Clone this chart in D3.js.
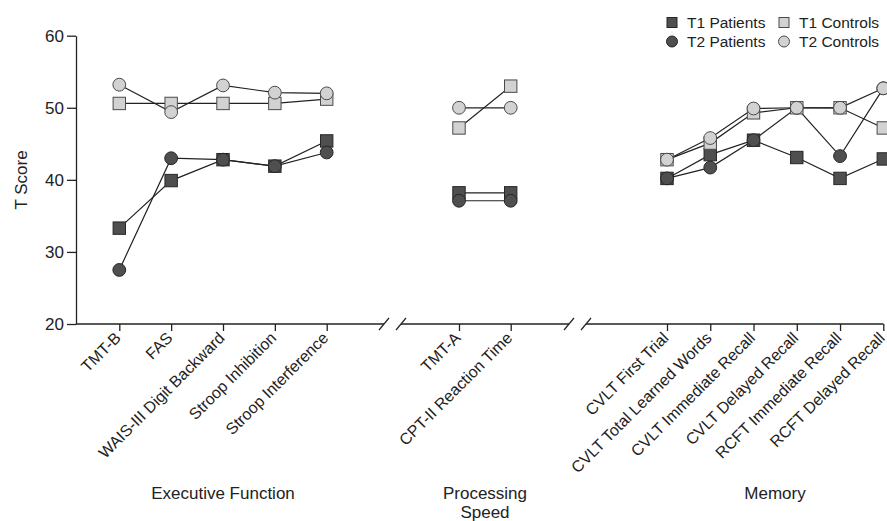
<!DOCTYPE html>
<html>
<head>
<meta charset="utf-8">
<script src="https://cdn.jsdelivr.net/npm/d3@7"></script>
<style>
  body { margin: 0; background: #fff; }
  svg { font-family: "Liberation Sans", Arial, Helvetica, sans-serif; }
</style>
</head>
<body>
<div id="chart"></div>
<script>
// test names per domain
const execTests = ["TMT-B", "FAS", "WAIS-III Digit Backward", "Stroop Inhibition", "Stroop Interference"];
const speedTests = ["TMT-A", "CPT-II Reaction Time"];
const memTests = ["CVLT First Trial", "CVLT Total Learned Words", "CVLT Immediate Recall",
                  "CVLT Delayed Recall", "RCFT Immediate Recall", "RCFT Delayed Recall"];

// T scores (exec / speed / memory)
const t1Patients = [[33.3, 39.9, 42.8, 41.9, 45.4], [38.2, 38.2], [40.2, 43.5, 45.5, 43.1, 40.2, 42.9]];
const t2Patients = [[27.5, 43.0, 42.8, 41.9, 43.8], [37.1, 37.1], [40.2, 41.7, 45.5, 50.0, 43.3, 52.7]];
const t1Controls = [[50.6, 50.6, 50.6, 50.6, 51.2], [47.2, 53.0], [42.8, 45.1, 49.3, 50.0, 50.0, 47.2]];
const t2Controls = [[53.2, 49.4, 53.1, 52.1, 52.0], [50.0, 50.0], [42.8, 45.8, 49.9, 50.0, 50.0, 52.7]];

const yTicks = [20, 30, 40, 50, 60];
const groupLabels = [["Executive Function"], ["Processing", "Speed"], ["Memory"]];

const series = [
  { name: "T1 Patients", data: t1Patients, shape: "square", fill: "#4f4f4f", stroke: "#262626" },
  { name: "T2 Patients", data: t2Patients, shape: "circle", fill: "#4f4f4f", stroke: "#262626" },
  { name: "T1 Controls", data: t1Controls, shape: "square", fill: "#d2d2d2", stroke: "#4a4a4a" },
  { name: "T2 Controls", data: t2Controls, shape: "circle", fill: "#d2d2d2", stroke: "#4a4a4a" }
];

const width = 887, height = 521;
const axisX = 76, axisY = 324;

const svg = d3.select("#chart").append("svg")
  .attr("width", width).attr("height", height);

const y = d3.scaleLinear().domain([20, 60]).range([axisY, 35.7]);

// one point scale per section, x axis is broken between them
const sections = [
  { tests: execTests, x: d3.scalePoint().domain(execTests).range([119.3, 326.7]) },
  { tests: speedTests, x: d3.scalePoint().domain(speedTests).range([459, 510.7]) },
  { tests: memTests, x: d3.scalePoint().domain(memTests).range([667, 883.3]) }
];
const groupCenters = [223, 485, 775];
const breaks = [392.5, 577.5];

// y axis
const yAxis = svg.append("g")
  .attr("transform", `translate(${axisX},0)`)
  .call(d3.axisLeft(y).tickValues(yTicks).tickSize(9).tickSizeOuter(0).tickPadding(3));
yAxis.select(".domain").attr("stroke", "#222").attr("stroke-width", 1.3);
yAxis.selectAll(".tick line").attr("stroke", "#222").attr("stroke-width", 1.3);
yAxis.selectAll(".tick text").attr("font-size", 17).attr("fill", "#222")
  .attr("font-family", "Liberation Sans, Arial, sans-serif");

svg.append("text")
  .attr("transform", "translate(27,180) rotate(-90)")
  .attr("text-anchor", "middle")
  .attr("font-size", 17).attr("fill", "#222")
  .text("T Score");

// x axis baseline with break marks
const segs = [[axisX, breaks[0] - 8.5], [breaks[0] + 8.5, breaks[1] - 8.5], [breaks[1] + 8.5, 883.5]];
svg.selectAll(".base").data(segs).join("line")
  .attr("x1", d => d[0]).attr("x2", d => d[1])
  .attr("y1", axisY).attr("y2", axisY)
  .attr("stroke", "#222").attr("stroke-width", 1.3);
breaks.forEach(c => {
  [-8.5, 8.5].forEach(off => {
    svg.append("line")
      .attr("x1", c + off - 5).attr("y1", axisY + 6)
      .attr("x2", c + off + 5).attr("y2", axisY - 6)
      .attr("stroke", "#222").attr("stroke-width", 1.2);
  });
});

sections.forEach((sec, si) => {
  const g = svg.append("g").attr("transform", `translate(0,${axisY})`)
    .call(d3.axisBottom(sec.x).tickSize(7).tickSizeOuter(0));
  g.select(".domain").remove();
  g.selectAll(".tick line").attr("stroke", "#222").attr("stroke-width", 1.3);
  g.selectAll(".tick text")
    .attr("font-size", 16).attr("fill", "#222")
    .attr("font-family", "Liberation Sans, Arial, sans-serif")
    .attr("text-anchor", "end")
    .attr("dy", null).attr("y", null)
    .attr("transform", "translate(2,15) rotate(-45)");

  const lab = svg.append("text")
    .attr("x", groupCenters[si]).attr("y", 499)
    .attr("text-anchor", "middle")
    .attr("font-size", 17).attr("fill", "#222");
  groupLabels[si].forEach((t, i) => {
    lab.append("tspan").attr("x", groupCenters[si]).attr("dy", i ? 19 : 0).text(t);
  });
});

// lines then markers, per series
const line = d3.line().x(d => d.x).y(d => y(d.v));
series.forEach(s => {
  sections.forEach((sec, si) => {
    const pts = sec.tests.map((t, i) => ({ x: sec.x(t), v: s.data[si][i] }));
    svg.append("path").datum(pts)
      .attr("d", line).attr("fill", "none")
      .attr("stroke", "#222").attr("stroke-width", 1.2);
  });
});

function drawMarker(g, shape, cx, cy, fill, stroke) {
  if (shape === "square") {
    g.append("rect").attr("x", cx - 6.2).attr("y", cy - 6.2)
      .attr("width", 12.4).attr("height", 12.4)
      .attr("fill", fill).attr("stroke", stroke).attr("stroke-width", 1);
  } else {
    g.append("circle").attr("cx", cx).attr("cy", cy).attr("r", 6.4)
      .attr("fill", fill).attr("stroke", stroke).attr("stroke-width", 1);
  }
}

series.forEach(s => {
  const g = svg.append("g");
  sections.forEach((sec, si) => {
    sec.tests.forEach((t, i) => drawMarker(g, s.shape, sec.x(t), y(s.data[si][i]), s.fill, s.stroke));
  });
});

// legend
const legendPos = [[672, 22.5], [672, 41.5], [784, 22.5], [784, 41.5]];
series.forEach((s, i) => {
  const [lx, ly] = legendPos[i];
  const g = svg.append("g");
  if (s.shape === "square") {
    g.append("rect").attr("x", lx - 5).attr("y", ly - 5).attr("width", 10).attr("height", 10)
      .attr("fill", s.fill).attr("stroke", s.stroke);
  } else {
    g.append("circle").attr("cx", lx).attr("cy", ly).attr("r", 5.5)
      .attr("fill", s.fill).attr("stroke", s.stroke);
  }
  g.append("text").attr("x", lx + 15).attr("y", ly + 5.5)
    .attr("font-size", 15.5).attr("fill", "#222").text(s.name);
});
</script>
</body>
</html>
